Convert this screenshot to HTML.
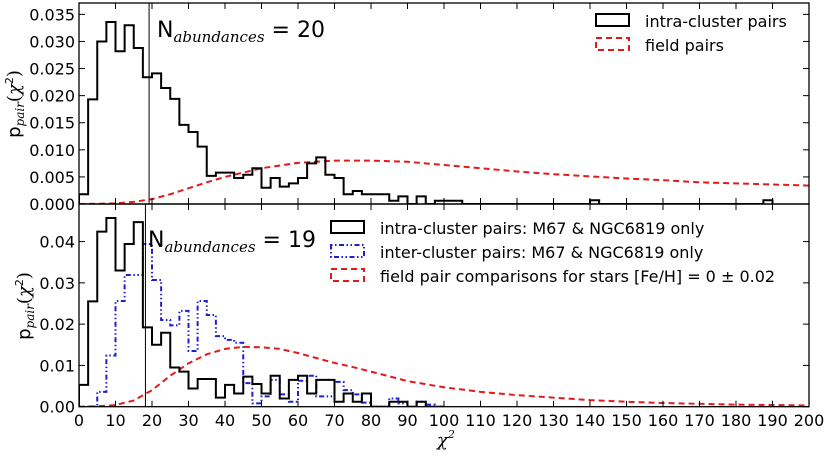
<!DOCTYPE html>
<html><head><meta charset="utf-8">
<style>
body{margin:0;background:#fff;position:relative;width:825px;height:456px;overflow:hidden}
svg{display:block;font-family:"DejaVu Sans","Liberation Sans",sans-serif;}
</style></head>
<body>
<svg id="chart" width="825" height="456" viewBox="0 0 825 456" xmlns="http://www.w3.org/2000/svg"></svg>
<script>
// ---------- data ----------
const binWidth = 2.5;
const topIntraVals = [0.0018,0.0193,0.030,0.0336,0.0282,0.033,0.0288,0.0234,0.0241,0.0214,0.0194,0.0146,0.0133,0.0106,0.0052,0.0058,0.0058,0.0048,0.0054,0.0066,0.003,0.0048,0.0032,0.0038,0.0048,0.0075,0.0086,0.0054,0.0048,0.0018,0.0024,0.0018,0.0018,0.0018,0.0006,0.0014,0,0.0014,0,0.0006,0.0006,0.0006,0,0,0,0,0,0,0,0,0,0,0,0,0,0,0.0007,0,0,0,0,0,0,0,0,0,0,0,0,0,0,0,0,0,0,0.0007];
const topFieldX = [0,10,15,20,25,30,35,40,50,60,70,80,90,100,110,120,130,140,150,160,170,180,190,200];
const topFieldY = [0,0.0001,0.0004,0.0009,0.0018,0.0029,0.0040,0.0050,0.0066,0.0076,0.0080,0.0080,0.0078,0.0072,0.0066,0.0060,0.0055,0.0051,0.0047,0.0044,0.0040,0.0038,0.0036,0.0034];
const botIntraVals = [0.0053,0.0255,0.0424,0.0457,0.033,0.0394,0.0447,0.0192,0.015,0.0179,0.0095,0.0085,0.0044,0.0067,0.0067,0.0022,0.0053,0.0032,0.0073,0.0055,0.0032,0.0075,0.002,0.0065,0.0075,0.0032,0.0065,0.0065,0.0012,0.0032,0.0012,0.0032,0,0,0.0012,0.0012,0,0.0012,0,0];
const botInterVals = [0,0,0.0036,0.0124,0.0256,0.0319,0.0319,0.0394,0.0307,0.021,0.0197,0.0232,0.0135,0.0256,0.0222,0.0171,0.0162,0.0155,0.0057,0.0008,0.0025,0.0065,0.003,0.0012,0.0063,0.0075,0.0025,0.0025,0.006,0.004,0.003,0.001,0,0,0.002,0.0008,0,0.0012,0.0005,0];
const botFieldX = [0,5,10,15,20,25,30,35,40,45,50,55,60,65,70,75,80,90,100,110,120,130,140,150,160,170,180,190,200];
const botFieldY = [0,0.0001,0.0004,0.0015,0.0040,0.0075,0.0105,0.0127,0.0140,0.0145,0.0144,0.0140,0.0130,0.0118,0.0106,0.0096,0.0085,0.0062,0.0047,0.0036,0.0028,0.0022,0.0016,0.0012,0.0009,0.0007,0.0005,0.0004,0.0003];
const xTicks = [0,10,20,30,40,50,60,70,80,90,100,110,120,130,140,150,160,170,180,190,200];
const topYTicks = [0,0.005,0.010,0.015,0.020,0.025,0.030,0.035];
const topYLabels = ["0.000","0.005","0.010","0.015","0.020","0.025","0.030","0.035"];
const botYTicks = [0,0.01,0.02,0.03,0.04];
const botYLabels = ["0.00","0.01","0.02","0.03","0.04"];
const topVLine = 19.2;
const botVLine = 18.2;

// ---------- axes ----------
const L = 79, R = 809;
const xS = v => L + (v/200)*(R-L);
const topAx = {top:3, bottom:204, max:0.0371};
const botAx = {top:204, bottom:406.7, max:0.0491};
const yS = (ax,v) => ax.bottom - (v/ax.max)*(ax.bottom-ax.top);

const svg = document.getElementById('chart');
const NS = 'http://www.w3.org/2000/svg';
function mk(tag, attrs, parent){
  const e = document.createElementNS(NS, tag);
  for (const k in attrs) e.setAttribute(k, attrs[k]);
  (parent||svg).appendChild(e);
  return e;
}
function histPath(ax, vals){
  let d = `M${xS(0)},${yS(ax,0)}`;
  vals.forEach((v,i)=>{
    const x0 = xS(i*binWidth), x1 = xS((i+1)*binWidth);
    d += ` L${x0},${yS(ax,v)} L${x1},${yS(ax,v)}`;
  });
  d += ` L${xS(vals.length*binWidth)},${yS(ax,0)}`;
  return d;
}
function linePath(ax, xs, ys){
  return xs.map((x,i)=>(i?'L':'M')+xS(x)+','+yS(ax,ys[i])).join(' ');
}

function drawAxes(ax, yTicks, yLabels, name){
  const g = mk('g', {});
  
  
  xTicks.forEach(t=>{
    const x = xS(t);
    const a = mk('line',{x1:x,x2:x,y1:ax.bottom,y2:ax.bottom-6,stroke:'#000','stroke-width':1},g);
    
    
    const b = mk('line',{x1:x,x2:x,y1:ax.top,y2:ax.top+6,stroke:'#000','stroke-width':1},g);
    
    
  });
  yTicks.forEach((t,i)=>{
    const y = yS(ax,t);
    mk('line',{x1:L,x2:L+6,y1:y,y2:y,stroke:'#000','stroke-width':1},g);
    mk('line',{x1:R,x2:R-6,y1:y,y2:y,stroke:'#000','stroke-width':1},g);
    const tx = mk('text',{x:L-4,y:y+6,'text-anchor':'end','font-size':16},g);
    tx.textContent = yLabels[i];
    
    
  });
}

function drawPanel(ax, name){
  const cp = mk('clipPath',{id:'clip-'+name});
  mk('rect',{x:L,y:ax.top,width:R-L,height:ax.bottom-ax.top},cp);
}
drawPanel(topAx,'top'); drawPanel(botAx,'bot');

let p;
p = mk('path',{d:linePath(topAx,topFieldX,topFieldY),fill:'none',stroke:'#e31a1c','stroke-width':2,'stroke-dasharray':'6,4','clip-path':'url(#clip-top)'});


p = mk('path',{d:histPath(topAx,topIntraVals),fill:'none',stroke:'#000','stroke-width':2,'clip-path':'url(#clip-top)'});



p = mk('path',{d:linePath(botAx,botFieldX,botFieldY),fill:'none',stroke:'#e31a1c','stroke-width':2,'stroke-dasharray':'6,4','clip-path':'url(#clip-bot)'});


p = mk('path',{d:histPath(botAx,botInterVals),fill:'none',stroke:'#1f1fd0','stroke-width':2,'stroke-dasharray':'1.5,2.5,1.5,2.5,5,2.5','clip-path':'url(#clip-bot)'});


p = mk('path',{d:histPath(botAx,botIntraVals),fill:'none',stroke:'#000','stroke-width':2,'clip-path':'url(#clip-bot)'});



p = mk('line',{x1:xS(topVLine),x2:xS(topVLine),y1:topAx.top,y2:topAx.bottom,stroke:'#000','stroke-width':1});


p = mk('line',{x1:xS(botVLine),x2:xS(botVLine),y1:botAx.top,y2:botAx.bottom,stroke:'#000','stroke-width':1});



drawAxes(topAx, topYTicks, topYLabels, 'top');
drawAxes(botAx, botYTicks, botYLabels, 'bottom');

p = mk('rect',{x:L,y:topAx.top,width:R-L,height:topAx.bottom-topAx.top,fill:'none',stroke:'#000','stroke-width':1.3});


p = mk('rect',{x:L,y:botAx.top,width:R-L,height:botAx.bottom-botAx.top,fill:'none',stroke:'#000','stroke-width':1.3});



xTicks.forEach(t=>{
  const tx = mk('text',{x:xS(t),y:426,'text-anchor':'middle','font-size':16});
  tx.textContent = t;
  
  
});
</script>
<svg style="position:absolute;left:0;top:0" width="825" height="456">
  <g font-family="DejaVu Sans, Liberation Sans, sans-serif">
    <text x="437" y="446" font-size="18" font-family="DejaVu Serif, Liberation Serif, serif" font-style="italic">χ<tspan font-size="11" dy="-8">2</tspan></text>
    <text transform="translate(20,104) rotate(-90)" text-anchor="middle" font-size="18">p<tspan font-size="12" font-style="italic" font-family="DejaVu Serif, Liberation Serif, serif" dy="4">pair</tspan><tspan dy="-4" font-family="DejaVu Serif, Liberation Serif, serif">(</tspan><tspan font-style="italic" font-family="DejaVu Serif, Liberation Serif, serif">χ</tspan><tspan font-size="11" dy="-7">2</tspan><tspan dy="7" font-family="DejaVu Serif, Liberation Serif, serif">)</tspan></text>
    <text transform="translate(30,306) rotate(-90)" text-anchor="middle" font-size="18">p<tspan font-size="12" font-style="italic" font-family="DejaVu Serif, Liberation Serif, serif" dy="4">pair</tspan><tspan dy="-4" font-family="DejaVu Serif, Liberation Serif, serif">(</tspan><tspan font-style="italic" font-family="DejaVu Serif, Liberation Serif, serif">χ</tspan><tspan font-size="11" dy="-7">2</tspan><tspan dy="7" font-family="DejaVu Serif, Liberation Serif, serif">)</tspan></text>
    <text x="157" y="37" font-size="22">N<tspan font-family="DejaVu Serif, Liberation Serif, serif" font-style="italic" font-size="15" dy="5">abundances</tspan><tspan dy="-5"> = 20</tspan></text>
    <text x="148" y="247" font-size="22">N<tspan font-family="DejaVu Serif, Liberation Serif, serif" font-style="italic" font-size="15" dy="5">abundances</tspan><tspan dy="-5"> = 19</tspan></text>
    <g>
      <rect x="596" y="14" width="33" height="12" fill="none" stroke="#000" stroke-width="2"/>
      <text x="645" y="27" font-size="16">intra-cluster pairs</text>
      <rect x="596" y="38" width="33" height="12" fill="none" stroke="#e31a1c" stroke-width="2" stroke-dasharray="6,4"/>
      <text x="645" y="51" font-size="16">field pairs</text>
    </g>
    <g>
      <rect x="331" y="221" width="33" height="12" fill="none" stroke="#000" stroke-width="2"/>
      <text x="380" y="234" font-size="16">intra-cluster pairs: M67 &amp; NGC6819 only</text>
      <rect x="331" y="245" width="33" height="12" fill="none" stroke="#1f1fd0" stroke-width="2" stroke-dasharray="1.5,2.5,1.5,2.5,5,2.5"/>
      <text x="380" y="258" font-size="16">inter-cluster pairs: M67 &amp; NGC6819 only</text>
      <rect x="331" y="269" width="33" height="12" fill="none" stroke="#e31a1c" stroke-width="2" stroke-dasharray="6,4"/>
      <text x="380" y="282" font-size="16">field pair comparisons for stars [Fe/H] = 0 ± 0.02</text>
    </g>
  </g>
</svg>
</body></html>
